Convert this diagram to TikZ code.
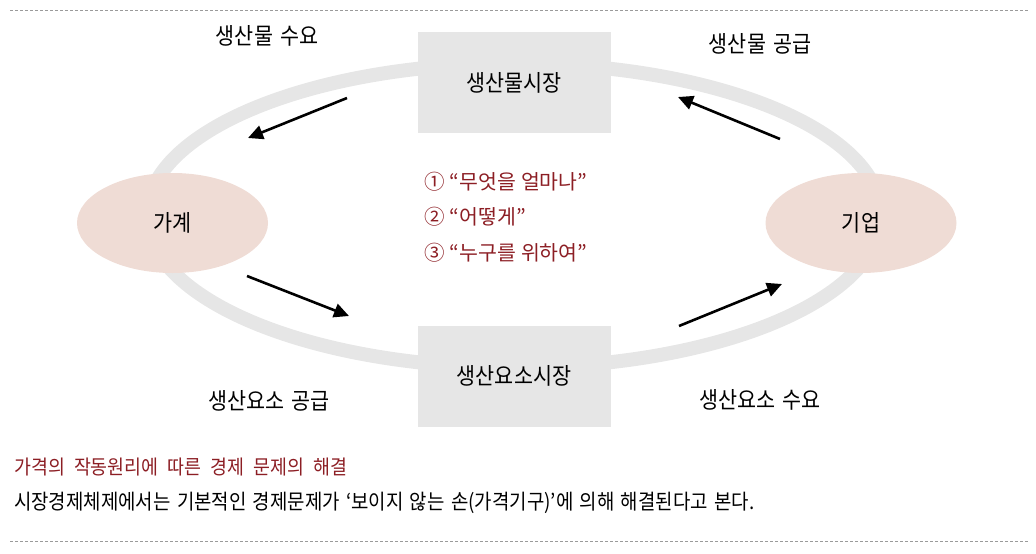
\documentclass[tikz,border=0pt]{standalone}
\usepackage{fontspec}
\setmainfont{Noto Sans CJK KR}
\newfontfamily\labf[FakeStretch=0.9,WordSpace=1.3]{Noto Sans CJK KR}
\newfontfamily\bodyf[FakeStretch=0.9,WordSpace=1.5]{Noto Sans CJK KR}
\newfontfamily\titf[FakeStretch=0.92,WordSpace=2.2]{Noto Sans CJK KR}
\newfontfamily\redf[WordSpace=1.1]{Noto Sans CJK KR}
\usetikzlibrary{shapes.geometric,arrows.meta}
\definecolor{ringgray}{HTML}{E6E6E6}
\definecolor{boxgray}{HTML}{E6E6E6}
\definecolor{pinkfill}{HTML}{EFDCD5}
\definecolor{darkred}{HTML}{8C1E24}
\definecolor{dashgray}{HTML}{9A9A9A}
\tikzset{
  ring/.style={draw=ringgray, line width=14pt},
  market/.style={rectangle, fill=boxgray, minimum width=193pt, minimum height=101pt, inner sep=0pt, font=\labf\fontsize{23}{26}\selectfont},
  agent/.style={ellipse, fill=pinkfill, minimum width=191pt, minimum height=100pt, inner sep=0pt, font=\labf\fontsize{23}{26}\selectfont},
  flowlabel/.style={inner sep=0pt, font=\labf\fontsize{23}{26}\selectfont},
  redlabel/.style={inner sep=0pt, anchor=west, text=darkred, font=\redf\fontsize{20.5}{24}\selectfont},
  flow/.style={line width=2.6pt, -{Triangle[length=15pt,width=14pt]}},
  sep/.style={draw=dashgray, line width=0.8pt, dash pattern=on 3pt off 2pt},
}
\begin{document}
\begin{tikzpicture}[x=1pt,y=-1pt]
\useasboundingbox (0,0) rectangle (1036,554);
% ring
\draw[ring] (514,215.5) ellipse [x radius=367pt, y radius=152pt];
% nodes
\node[market] (pm) at (514,82.5) {생산물시장};
\node[market] (fm) at (514,376) {생산요소시장};
\node[agent] (hh) at (172.5,223) {가계};
\node[agent] (fi) at (861,223) {기업};
% labels
\node[flowlabel] (l1) at (267,36) {생산물 수요};
\node[flowlabel] (l2) at (760,44) {생산물 공급};
\node[flowlabel] (l3) at (269,401) {생산요소 공급};
\node[flowlabel] (l4) at (760,400) {생산요소 수요};
\node[redlabel] (q1) at (424,182) {① “무엇을 얼마나”};
\node[redlabel] (q2) at (424,217) {② “어떻게”};
\node[redlabel] (q3) at (424,253) {③ “누구를 위하여”};
% arrows
\coordinate (a1s) at (347,98);  \coordinate (a1e) at (248,138);
\coordinate (a2s) at (780,139); \coordinate (a2e) at (678,97);
\coordinate (a3s) at (247,276); \coordinate (a3e) at (349,316);
\coordinate (a4s) at (679,326); \coordinate (a4e) at (782,284);
\draw[flow] (a1s) -- (a1e);
\draw[flow] (a2s) -- (a2e);
\draw[flow] (a3s) -- (a3e);
\draw[flow] (a4s) -- (a4e);
% dashed separators
\coordinate (t1) at (10,10); \coordinate (t2) at (1028,10);
\coordinate (b1) at (10,541); \coordinate (b2) at (1028,541);
\draw[sep] (t1) -- (t2);
\draw[sep] (b1) -- (b2);
% bottom text
\node[inner sep=0pt, anchor=west, text=darkred, font=\titf\fontsize{20}{23}\selectfont] (title) at (14,467) {가격의 작동원리에 따른 경제 문제의 해결};
\node[inner sep=0pt, anchor=west, font=\bodyf\fontsize{21}{24}\selectfont] (body) at (14,503) {시장경제체제에서는 기본적인 경제문제가 ‘보이지 않는 손(가격기구)’에 의해 해결된다고 본다.};
\end{tikzpicture}
\end{document}
